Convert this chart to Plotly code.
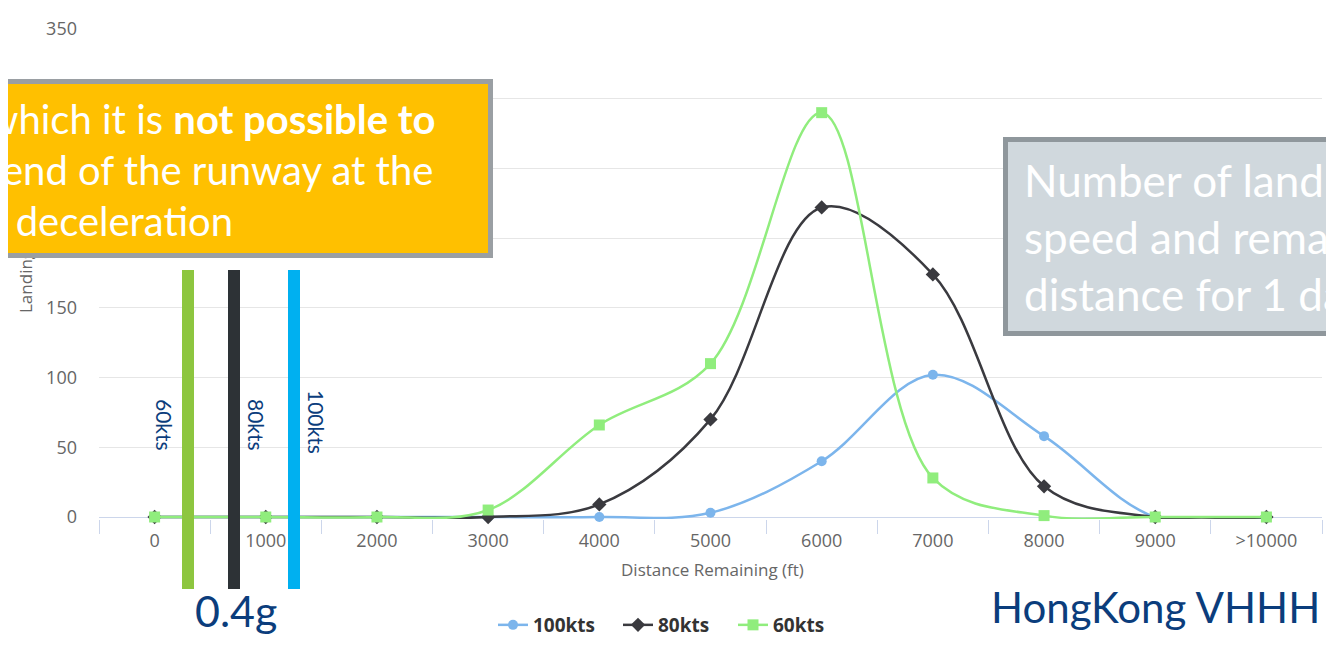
import plotly.graph_objects as go

# ---------------- data ----------------
categories = ["0", "1000", "2000", "3000", "4000", "5000", "6000",
              "7000", "8000", "9000", ">10000"]
landings_100kts = [0, 0, 0, 0, 0, 3, 40, 102, 58, 0, 0]
landings_80kts = [0, 0, 0, 0, 9, 70, 222, 174, 22, 0, 0]
landings_60kts = [0, 0, 0, 5, 66, 110, 290, 28, 1, 0, 0]
y_ticks = [0, 50, 100, 150, 200, 250, 300, 350]
# labels for 200-300 sit under the orange call-out in the reference
y_tick_labels = ["0", "50", "100", "150", "", "", "", "350"]
series_names = ["100kts", "80kts", "60kts"]

# ---------------- geometry helpers (page pixel -> paper) ----------------
# the page body has an 8px margin, so the figure is 16px smaller than the window
OFF = 8
W, H = 1334 - 2 * OFF, 647 - 2 * OFF
PL, PR, PT, PB = 99, 1322, 29, 519          # plot area in page pixels
def xp(px):
    return (px - PL) / (PR - PL)
def yp(py):
    return (PB - py) / (PB - PT)

ymin = -(PB - 517) * 350 / (517 - PT)

fig = go.Figure()
styles = [
    (landings_100kts, "#7cb5ec", "circle", 10, 80),
    (landings_80kts, "#3a3a3f", "diamond", 11, 70),
    (landings_60kts, "#90ed7d", "square", 11, 60),
]
for name, (vals, col, sym, size, lw) in zip(series_names, styles):
    fig.add_trace(go.Scatter(
        x=categories, y=vals, name=name, mode="lines+markers",
        line=dict(color=col, width=2.5, shape="spline", smoothing=1),
        marker=dict(symbol=sym, size=size, color=col),
        cliponaxis=False, legendwidth=lw,
    ))

tick_font = dict(family="Open Sans", size=18, color="#666666")
blue_txt = "#0b3d7c"

fig.update_layout(
    width=W, height=H,
    margin=dict(l=PL - OFF, r=W - (PR - OFF), t=PT - OFF, b=H - (PB - OFF),
                pad=0, autoexpand=False),
    paper_bgcolor="white",
    plot_bgcolor="white",
    showlegend=True,
    legend=dict(orientation="h", x=xp(493), xanchor="left",
                y=yp(625), yanchor="middle", borderwidth=0,
                font=dict(family="Open Sans", size=19, color="#333333", weight="bold"),
                bgcolor="rgba(0,0,0,0)"),
    xaxis=dict(type="category", range=[-0.5, 10.5], showgrid=False,
               showline=False, zeroline=False, ticks="outside",
               tickson="boundaries", ticklen=14, tickcolor="#ccd6eb",
               ticklabelstandoff=9, tickfont=tick_font, automargin=False),
    yaxis=dict(range=[ymin, 350], tickvals=y_ticks, ticktext=y_tick_labels,
               showgrid=True, gridcolor="#e6e6e6", zeroline=True,
               zerolinecolor="#ccd6eb", zerolinewidth=1, showline=False,
               ticks="", ticklabelstandoff=21, tickfont=tick_font, automargin=False),
)

shapes = []
for x0, x1, col in [(182, 194, "#8dc63f"), (228, 240, "#2d3236"), (288, 300, "#00b0f0")]:
    shapes.append(dict(type="rect", xref="paper", yref="paper",
                       x0=xp(x0), x1=xp(x1), y0=yp(589), y1=yp(270),
                       fillcolor=col, line=dict(width=0), layer="above"))
fig.update_layout(shapes=shapes)

ann = []
# y axis title (partly hidden by the orange call-out)
ann.append(dict(text="Landings", xref="paper", yref="paper", x=xp(25), y=yp(278),
                textangle=-90, showarrow=False, xanchor="center", yanchor="middle",
                font=dict(family="Open Sans", size=17, color="#666666")))
# orange call-out box
ann.append(dict(text=" ", xref="paper", yref="paper", x=xp(231.5), y=yp(168.5),
                xanchor="center", yanchor="middle", showarrow=False,
                width=513, height=169, bgcolor="#ffc000", bordercolor="#9a9fa3",
                borderwidth=5, borderpad=0))
orange_font = dict(family="Lato", size=40, color="white")
for txt, x, y in [("which it is <b>not possible to</b>", -13, 119),
                  ("end of the runway at the", 2, 170),
                  ("l deceleration", -4, 221)]:
    ann.append(dict(text=txt, xref="paper", yref="paper", x=xp(x), y=yp(y),
                    xanchor="left", yanchor="middle", showarrow=False,
                    borderpad=0, borderwidth=0, font=orange_font))
# grey call-out box
ann.append(dict(text=" ", xref="paper", yref="paper", x=xp(1181.5), y=yp(236.5),
                xanchor="center", yanchor="middle", showarrow=False,
                width=347, height=189, bgcolor="#d0d8dd", bordercolor="#8f979c",
                borderwidth=5, borderpad=0))
ann.append(dict(text="Number of land<br>speed and rema<br>distance for 1 da",
                xref="paper", yref="paper", x=xp(1024), y=yp(237),
                xanchor="left", yanchor="middle", align="left", showarrow=False,
                borderpad=0, borderwidth=0,
                font=dict(family="Lato", size=44, color="white")))
# bar labels
for txt, x, y in [("60kts", 165, 425), ("80kts", 257, 425), ("100kts", 317, 422)]:
    ann.append(dict(text=txt, xref="paper", yref="paper", x=xp(x), y=yp(y),
                    textangle=90, showarrow=False, xanchor="center", yanchor="middle",
                    font=dict(family="Lato", size=21, color=blue_txt)))
ann.append(dict(text="0.4g", xref="paper", yref="paper", x=xp(236), y=yp(610),
                showarrow=False, xanchor="center", yanchor="middle",
                font=dict(family="Lato", size=43, color=blue_txt)))
ann.append(dict(text="HongKong VHHH", xref="paper", yref="paper", x=xp(1155.5), y=yp(607),
                showarrow=False, xanchor="center", yanchor="middle",
                font=dict(family="Lato", size=42, color=blue_txt)))
ann.append(dict(text="Distance Remaining (ft)", xref="paper", yref="paper",
                x=xp(712), y=yp(569), showarrow=False, xanchor="center",
                yanchor="middle", font=dict(family="Open Sans", size=17, color="#666666")))
fig.update_layout(annotations=ann)

fig.write_html("out.html")
